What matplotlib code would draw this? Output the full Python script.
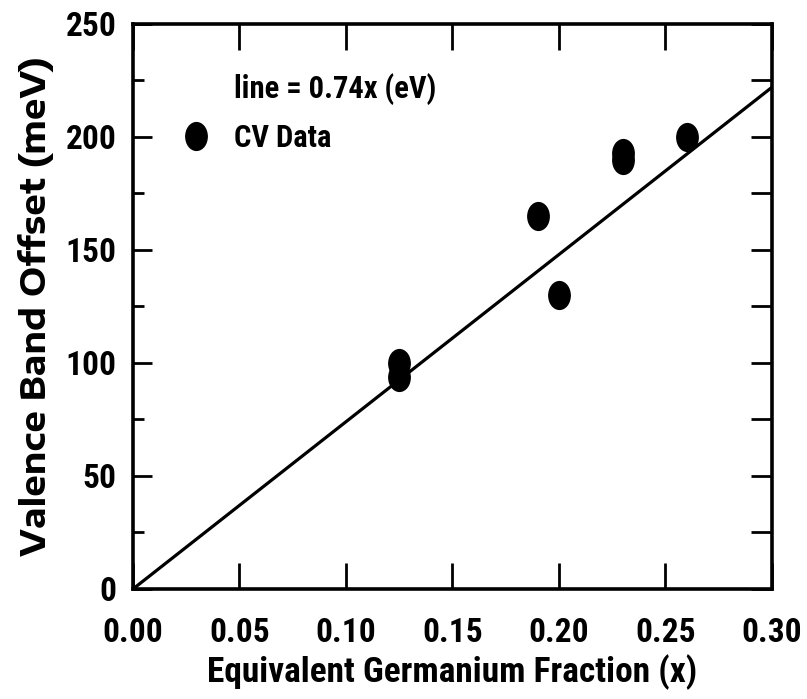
import numpy as np
import matplotlib
matplotlib.use("Agg")
import matplotlib.pyplot as plt
from matplotlib.path import Path
from matplotlib.transforms import Affine2D
from matplotlib.ticker import MultipleLocator

# ----------------------------
# Data
# ----------------------------
ge_fraction = [0.125, 0.125, 0.19, 0.20, 0.23, 0.23, 0.26]
vbo_mev = [100, 94, 165, 130, 193, 190, 200]
slope_mev = 740  # line = 0.74x (eV)
line_x = [0.0, 0.30]

x_ticks = [0.00, 0.05, 0.10, 0.15, 0.20, 0.25, 0.30]
x_ticklabels = ["0.00", "0.05", "0.10", "0.15", "0.20", "0.25", "0.30"]
y_ticks = [0, 50, 100, 150, 200, 250]

NARROW = ["Roboto Condensed", "PT Sans Narrow", "DejaVu Sans"]
WIDE = ["Encode Sans Expanded", "Liberation Sans", "DejaVu Sans"]

plt.rcParams.update({
    "figure.facecolor": "white",
    "axes.facecolor": "white",
    "font.family": NARROW,
    "font.weight": "bold",
    "axes.labelweight": "bold",
})

# slightly tall ellipse, like the scanned markers
ellipse = Path.unit_circle().transformed(Affine2D().scale(0.77, 1.0))

fig = plt.figure(figsize=(8.07, 6.99), dpi=100)
ax = fig.add_axes([0.1648, 0.1574, 0.7918, 0.8083])

fit_y = [slope_mev * x for x in line_x]
ax.plot(line_x, fit_y, color="black", lw=2.3, solid_capstyle="butt",
        label="line = 0.74x (eV)")
ax.plot(ge_fraction, vbo_mev, linestyle="none", marker=ellipse,
        markersize=20, color="black", label="CV Data")

ax.set_xlim(0, 0.30)
ax.set_ylim(0, 250)

ax.set_xticks(x_ticks)
ax.set_xticklabels(x_ticklabels)
ax.set_yticks(y_ticks)
ax.yaxis.set_minor_locator(MultipleLocator(25))

for s in ax.spines.values():
    s.set_linewidth(2.6)

ax.tick_params(axis="x", which="major", direction="in", length=19, width=2.0,
               top=True, bottom=True, labelsize=24, pad=20)
ax.tick_params(axis="y", which="major", direction="in", length=14, width=2.0,
               left=True, right=False, labelsize=24, pad=12)
ax.tick_params(axis="y", which="minor", direction="in", length=8, width=2.0,
               left=True, right=False)

# right-hand side ticks: every 25 meV, all equal length
rax = ax.twinx()
rax.set_ylim(ax.get_ylim())
rax.yaxis.set_major_locator(MultipleLocator(25))
rax.tick_params(axis="y", direction="in", length=15, width=2.0, labelright=False)
for s in rax.spines.values():
    s.set_visible(False)

ax.set_xlabel("Equivalent Germanium Fraction (x)", fontsize=25.5, labelpad=4)
ax.set_ylabel("Valence Band Offset (meV)", fontsize=24.5, family=WIDE, labelpad=8)

leg = ax.legend(loc="upper left", bbox_to_anchor=(0.055, 0.935), frameon=False,
                fontsize=22, handlelength=1.0, handletextpad=0.75,
                labelspacing=0.6, borderaxespad=0.0)
leg.legend_handles[0].set_visible(False)

fig.savefig("out.png", dpi=100)
